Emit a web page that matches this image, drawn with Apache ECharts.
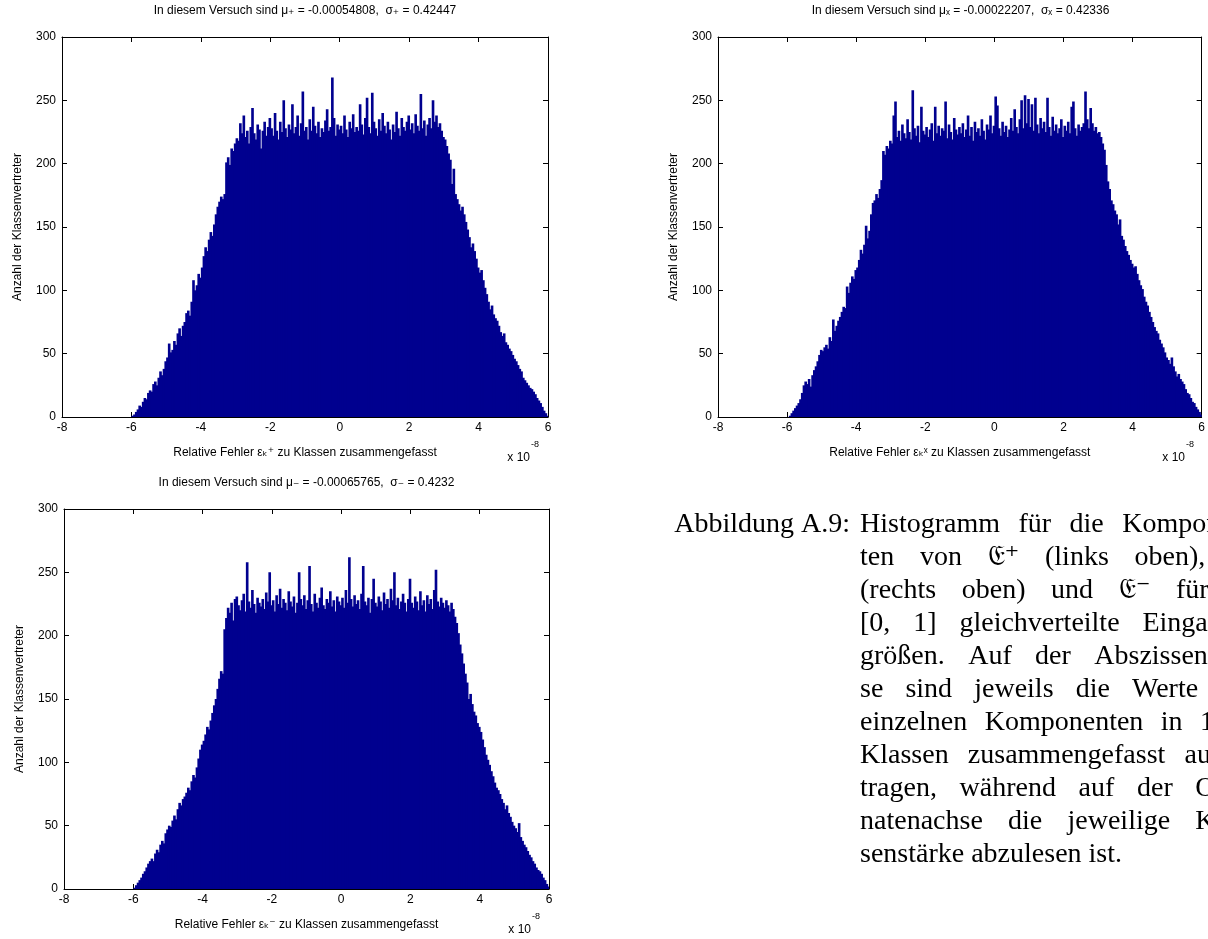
<!DOCTYPE html>
<html>
<head>
<meta charset="utf-8">
<script src="https://cdn.jsdelivr.net/npm/echarts@6/dist/echarts.min.js"></script>
<style>html,body{margin:0;padding:0;background:#fff;}#c{width:1208px;height:939px;}</style>
</head>
<body>
<div id="c"></div>
<script>
// ---- data ----
const BIN_START = -6;      // lower edge of first class (x 1e-8)
const BIN_WIDTH = 0.05;    // class width (x 1e-8)
const xTicks = [-8, -6, -4, -2, 0, 2, 4, 6];
const yTicks = [0, 50, 100, 150, 200, 250, 300];

const titles = [
  'In diesem Versuch sind μ₊ = -0.00054808,  σ₊ = 0.42447',
  'In diesem Versuch sind μₓ = -0.00022207,  σₓ = 0.42336',
  'In diesem Versuch sind μ₋ = -0.00065765,  σ₋ = 0.4232'
];
const xNames = [
  'Relative Fehler εₖ⁺ zu Klassen zusammengefasst',
  'Relative Fehler εₖˣ zu Klassen zusammengefasst',
  'Relative Fehler εₖ⁻ zu Klassen zusammengefasst'
];
const yName = 'Anzahl der Klassenvertreter';

const countsPlus = [
1,2,4,6,9,8,12,15,14,19,
21,20,26,28,25,31,36,33,38,44,
47,58,51,53,60,57,66,70,64,72,
75,82,84,80,91,108,100,104,113,110,
118,127,134,131,140,146,143,152,160,166,
170,174,172,176,201,205,199,212,210,216,
220,218,232,224,238,221,226,216,229,244,
224,219,231,227,212,226,233,222,229,236,
228,222,240,226,219,233,225,250,228,221,
231,227,247,224,229,238,222,232,257,226,
229,219,235,226,245,230,224,233,221,228,
225,234,243,226,229,268,236,222,231,227,
230,224,238,227,221,233,228,239,225,229,
226,247,231,223,236,252,229,224,256,233,
228,222,235,226,240,230,224,233,227,219,
231,225,241,228,222,236,229,226,233,238,
227,232,224,239,230,226,255,228,234,222,
231,236,228,250,233,238,229,232,226,221,
219,214,208,203,184,196,176,172,168,163,
166,160,154,148,142,134,137,131,125,118,
114,116,108,102,97,91,85,88,81,78,
76,72,67,64,66,59,57,54,52,49,
46,44,41,38,36,31,29,27,25,23,
22,20,18,15,13,11,8,5,3,1];

const countsCross = [
0,1,3,5,7,9,11,14,19,25,
28,26,30,24,33,37,40,44,49,53,
52,55,57,54,63,60,77,68,72,76,
79,83,87,86,103,98,106,111,109,116,
118,124,132,129,136,151,141,147,160,169,
171,176,173,180,187,210,207,214,212,218,
216,238,249,221,226,218,231,224,220,235,
225,219,258,228,222,230,217,245,226,223,
229,221,227,232,218,245,224,230,222,228,
226,249,220,231,225,219,236,227,223,229,
224,232,221,227,238,222,229,218,233,225,
228,222,235,226,219,231,227,238,224,230,
253,246,228,222,233,225,230,221,227,236,
226,243,229,224,235,250,228,254,232,251,
229,247,226,252,231,224,236,228,233,225,
252,229,222,237,226,231,224,228,235,221,
230,226,233,224,245,249,228,222,231,226,
229,232,257,235,228,244,232,226,229,224,
225,221,216,211,199,186,180,171,168,163,
160,152,156,143,140,135,131,128,124,121,
118,119,113,108,104,101,95,91,88,83,
79,75,71,68,66,61,58,55,51,47,
45,42,47,40,36,32,34,30,28,26,
22,19,18,15,12,11,8,6,4,2];

const countsMinus = [
1,3,5,7,9,12,14,17,20,22,
24,22,28,31,29,35,38,36,44,47,
50,49,54,58,55,63,68,66,71,73,
76,80,78,85,90,88,96,103,110,114,
117,122,128,126,133,139,145,150,158,166,
172,170,205,214,222,218,226,212,229,231,
224,220,228,233,219,258,227,222,236,225,
218,230,226,223,229,221,234,227,250,224,
228,219,232,225,237,222,229,226,220,235,
227,223,231,218,226,250,229,224,232,221,
228,255,225,219,233,226,222,230,238,224,
221,229,226,235,223,228,219,231,227,224,
230,222,236,226,262,229,223,232,225,228,
221,233,255,227,224,230,218,229,245,226,
223,231,227,220,234,225,229,222,237,228,
250,224,230,221,227,233,226,219,229,245,
226,222,231,227,220,235,224,228,219,232,
225,229,221,236,252,227,223,230,226,222,
228,224,219,226,221,215,210,202,193,186,
178,170,163,150,154,146,140,137,131,128,
124,118,112,106,102,98,93,89,84,80,
78,75,71,68,63,66,60,57,53,50,
48,45,52,41,38,35,33,30,27,25,
22,20,17,15,14,12,9,7,4,2];

const captionLabel = 'Abbildung A.9:';
const captionLines = [
  'Histogramm für die Komponen-',
  'ten von 𝔈⁺ (links oben), 𝔈ˣ',
  '(rechts oben) und 𝔈⁻ für in',
  '[0, 1] gleichverteilte Eingangs-',
  'größen. Auf der Abszissenach-',
  'se sind jeweils die Werte der',
  'einzelnen Komponenten in 1000',
  'Klassen zusammengefasst aufge-',
  'tragen, während auf der Ordi-',
  'natenachse die jeweilige Klas-',
  'senstärke abzulesen ist.'
];

// ---- layout / styling ----
const SANS = '"Liberation Sans", Arial, "DejaVu Sans", sans-serif';
const SERIF_FAMILY = '"Liberation Serif", "DejaVu Serif", "DejaVu Sans", serif';
const CAP_SIZE = 28;
const BAR_COLOR = '#00008f';
const grids = [
  {left: 62, top: 37, width: 486, height: 380},
  {left: 718, top: 37, width: 485, height: 380},
  {left: 64, top: 509, width: 485, height: 380}
];
const allCounts = [countsPlus, countsCross, countsMinus];

const xAxes = [], yAxes = [], series = [], graphics = [];
const lineStyle = {color: '#000', width: 1};
const labelStyle = {color: '#000', fontSize: 12, fontFamily: SANS};

grids.forEach((g, gi) => {
  xAxes.push({
    gridIndex: gi, type: 'value', min: xTicks[0], max: xTicks[xTicks.length - 1], interval: 2,
    position: 'bottom',
    axisLine: {show: true, onZero: false, lineStyle},
    axisTick: {show: true, inside: true, length: 5, lineStyle},
    axisLabel: Object.assign({margin: 5}, labelStyle),
    splitLine: {show: false},
    name: xNames[gi], nameLocation: 'middle', nameGap: 30,
    nameTextStyle: {color: '#000', fontSize: 12, fontFamily: SANS}
  });
  xAxes.push({
    gridIndex: gi, type: 'value', min: xTicks[0], max: xTicks[xTicks.length - 1], interval: 2,
    position: 'top',
    axisLine: {show: true, onZero: false, lineStyle},
    axisTick: {show: true, inside: true, length: 5, lineStyle},
    axisLabel: {show: false}, splitLine: {show: false}
  });
  yAxes.push({
    gridIndex: gi, type: 'value', min: yTicks[0], max: yTicks[yTicks.length - 1], interval: 50,
    position: 'left',
    axisLine: {show: true, onZero: false, lineStyle},
    axisTick: {show: true, inside: true, length: 5, lineStyle},
    axisLabel: Object.assign({margin: 6}, labelStyle),
    splitLine: {show: false},
    name: yName, nameLocation: 'middle', nameGap: 38,
    nameTextStyle: {color: '#000', fontSize: 12, fontFamily: SANS}
  });
  yAxes.push({
    gridIndex: gi, type: 'value', min: yTicks[0], max: yTicks[yTicks.length - 1], interval: 50,
    position: 'right',
    axisLine: {show: true, onZero: false, lineStyle},
    axisTick: {show: true, inside: true, length: 5, lineStyle},
    axisLabel: {show: false}, splitLine: {show: false}
  });

  const data = allCounts[gi].map((c, i) => [BIN_START + i * BIN_WIDTH, BIN_START + (i + 1) * BIN_WIDTH, c]);
  series.push({
    type: 'custom',
    xAxisIndex: gi * 2, yAxisIndex: gi * 2,
    data,
    encode: {x: [0, 1], y: 2},
    z: 1,
    renderItem: function (params, api) {
      const p0 = api.coord([api.value(0), api.value(2)]);
      const p1 = api.coord([api.value(1), 0]);
      const last = params.dataIndex === params.dataInsideLength - 1;
      // slight overlap with the neighbouring class so no seams appear
      const w = (p1[0] - p0[0]) + (last ? 0 : 0.9);
      return {
        type: 'rect',
        shape: {x: p0[0], y: p0[1], width: w, height: p1[1] - p0[1]},
        style: {fill: BAR_COLOR}
      };
    }
  });

  // title
  graphics.push({
    type: 'text', x: g.left + g.width / 2, y: g.top - 26,
    style: {text: titles[gi], font: '12px ' + SANS, fill: '#000', textAlign: 'center', textVerticalAlign: 'middle'}
  });
  // exponent label
  graphics.push({
    type: 'text', x: g.left + g.width - 18, y: g.top + g.height + 41,
    style: {text: 'x 10', font: '12px ' + SANS, fill: '#000', textAlign: 'right', textVerticalAlign: 'middle'}
  });
  graphics.push({
    type: 'text', x: g.left + g.width - 17, y: g.top + g.height + 28,
    style: {text: '-8', font: '9px ' + SANS, fill: '#000', textAlign: 'left', textVerticalAlign: 'middle'}
  });
});

// caption with justified lines
const CAP_LEFT = 860, CAP_RIGHT = 1256, CAP_TOP = 525, CAP_STEP = 33;
const mctx = document.createElement('canvas').getContext('2d');
mctx.font = CAP_SIZE + 'px ' + SERIF_FAMILY;
graphics.push({
  type: 'text', x: 850, y: CAP_TOP,
  style: {text: captionLabel, font: CAP_SIZE + 'px ' + SERIF_FAMILY, fill: '#000', textAlign: 'right', textVerticalAlign: 'middle'}
});
captionLines.forEach((line, li) => {
  const y = CAP_TOP + li * CAP_STEP;
  const last = li === captionLines.length - 1;
  if (last) {
    graphics.push({type: 'text', x: CAP_LEFT, y,
      style: {text: line, font: CAP_SIZE + 'px ' + SERIF_FAMILY, fill: '#000', textAlign: 'left', textVerticalAlign: 'middle'}});
    return;
  }
  const words = line.split(' ');
  const widths = words.map(w => mctx.measureText(w).width);
  const total = widths.reduce((a, b) => a + b, 0);
  const gap = (CAP_RIGHT - CAP_LEFT - total) / (words.length - 1);
  let x = CAP_LEFT;
  words.forEach((w, wi) => {
    graphics.push({type: 'text', x, y,
      style: {text: w, font: CAP_SIZE + 'px ' + SERIF_FAMILY, fill: '#000', textAlign: 'left', textVerticalAlign: 'middle'}});
    x += widths[wi] + gap;
  });
});

const chart = echarts.init(document.getElementById('c'), null, {renderer: 'canvas'});
chart.setOption({
  animation: false,
  backgroundColor: '#fff',
  grid: grids.map(g => Object.assign({containLabel: false}, g)),
  xAxis: xAxes,
  yAxis: yAxes,
  series,
  graphic: graphics
});
</script>
</body>
</html>
